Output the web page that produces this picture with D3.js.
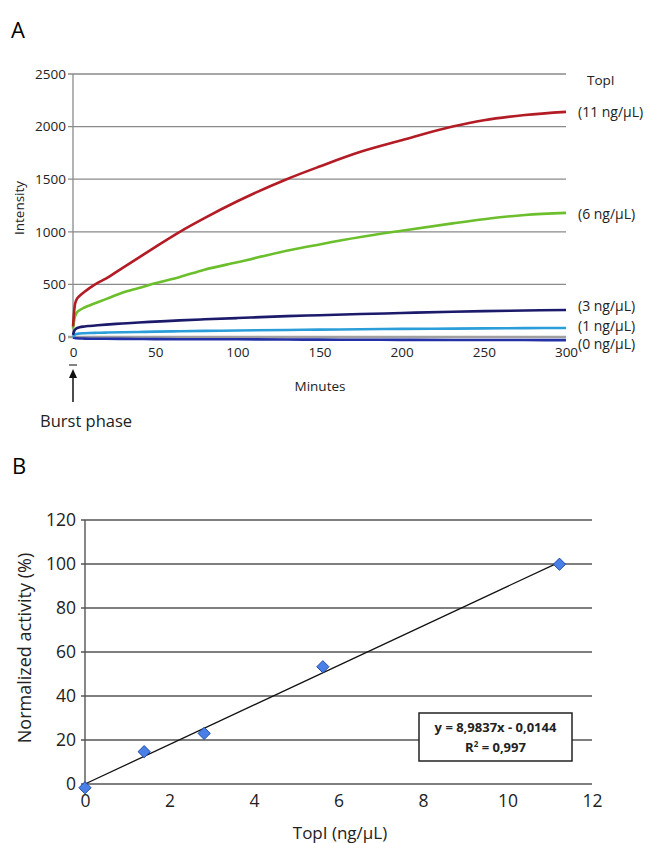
<!DOCTYPE html>
<html>
<head>
<meta charset="utf-8">
<script src="https://cdn.jsdelivr.net/npm/d3@7"></script>
<style>
  body { margin: 0; background: #fff; }
  svg { display: block; font-family: "Open Sans", sans-serif; }
</style>
</head>
<body>
<div id="chart"></div>
<script>
// Panel A: intensity over time for each TopI concentration
const minutes = [0, 1, 2, 4, 7, 10, 15, 20, 30, 40, 50, 65, 80, 100, 130, 150, 175, 200, 231, 250, 275, 300];
const red11   = [100, 290, 350, 390, 430, 465, 515, 555, 655, 755, 855, 1000, 1130, 1290, 1500, 1620, 1760, 1870, 2000, 2060, 2110, 2140];
const green6  = [80, 180, 225, 255, 280, 300, 330, 360, 420, 465, 510, 570, 640, 710, 820, 880, 950, 1010, 1080, 1120, 1160, 1180];
const navy3   = [20, 65, 80, 92, 100, 105, 112, 118, 128, 138, 146, 158, 168, 180, 198, 207, 218, 228, 240, 246, 252, 257];
const blue1   = [0, 20, 28, 33, 36, 38, 40, 42, 45, 48, 51, 55, 58, 62, 67, 70, 74, 77, 80, 82, 84, 86];
const blue0   = [-5, -10, -12, -14, -15, -16, -17, -17, -18, -19, -20, -21, -22, -22, -24, -25, -26, -27, -28, -28, -29, -30];
const seriesA = [
  { label: "(11 ng/\u03bcL)", values: red11,  color: "#b31b25" },
  { label: "(6 ng/\u03bcL)",  values: green6, color: "#6cbf2c" },
  { label: "(3 ng/\u03bcL)",  values: navy3,  color: "#1b1a6b" },
  { label: "(1 ng/\u03bcL)",  values: blue1,  color: "#2b9ed9" },
  { label: "(0 ng/\u03bcL)",  values: blue0,  color: "#2431a6" }
];
const ticksA_y = [0, 500, 1000, 1500, 2000, 2500];
const ticksA_x = [0, 50, 100, 150, 200, 250, 300];

// Panel B: normalized activity vs TopI concentration
const topI     = [0, 1.4, 2.82, 5.63, 11.23];
const activity = [-1.7, 14.7, 23.0, 53.3, 99.9];
const slope = 8.9837, intercept = -0.0144;
const ticksB_y = [0, 20, 40, 60, 80, 100, 120];
const ticksB_x = [0, 2, 4, 6, 8, 10, 12];

const width = 648, height = 843;
const svg = d3.select("#chart").append("svg")
    .attr("width", width)
    .attr("height", height);

const fmt = d3.format("d");

// ---------- Panel A ----------
const xA = d3.scaleLinear().domain([0, 300]).range([73, 566]);
const yA = d3.scaleLinear().domain([0, 2500]).range([337, 74]);

svg.append("text").attr("x", 11).attr("y", 38)
    .attr("font-size", 22).text("A");

const gA = svg.append("g");

// gridlines
gA.selectAll("line.grid")
    .data(ticksA_y)
    .enter().append("line")
    .attr("x1", 68).attr("x2", xA(300))
    .attr("y1", d => yA(d)).attr("y2", d => yA(d))
    .attr("stroke", d => d === 0 ? "#a0a0a0" : "#8a8a8a")
    .attr("stroke-width", d => d === 0 ? 2.5 : 1.3);

gA.append("line")
    .attr("x1", xA(0)).attr("x2", xA(0))
    .attr("y1", yA(2500)).attr("y2", yA(0))
    .attr("stroke", "#8a8a8a").attr("stroke-width", 1.3);

const axisAy = gA.append("g")
    .attr("transform", `translate(${xA(0) - 5},0)`)
    .call(d3.axisLeft(yA).tickValues(ticksA_y).tickFormat(fmt).tickSize(0).tickPadding(2));
axisAy.select(".domain").remove();
axisAy.selectAll("text").attr("font-size", 13.5).attr("fill", "#222")
    .style("font-family", "'Open Sans', sans-serif");

const axisAx = gA.append("g")
    .attr("transform", `translate(0,${yA(0) + 7})`)
    .call(d3.axisBottom(xA).tickValues(ticksA_x).tickFormat(fmt).tickSize(0).tickPadding(3));
axisAx.select(".domain").remove();
axisAx.selectAll("text").attr("font-size", 13.5).attr("fill", "#222")
    .style("font-family", "'Open Sans', sans-serif");

svg.append("text")
    .attr("transform", "translate(24,208) rotate(-90)")
    .attr("text-anchor", "middle")
    .attr("font-size", 13.5).attr("fill", "#222")
    .text("Intensity");

svg.append("text")
    .attr("x", 320).attr("y", 391)
    .attr("text-anchor", "middle")
    .attr("font-size", 13.5).attr("fill", "#222")
    .text("Minutes");

const lineA = d3.line()
    .x((d, i) => xA(minutes[i]))
    .y(d => yA(d))
    .curve(d3.curveMonotoneX);

gA.selectAll("path.series")
    .data(seriesA.slice().reverse())
    .enter().append("path")
    .attr("fill", "none")
    .attr("stroke", d => d.color)
    .attr("stroke-width", 2.6)
    .attr("d", d => lineA(d.values));

// labels on the right
svg.append("text").attr("x", 587).attr("y", 85)
    .attr("font-size", 13.5).attr("fill", "#222").text("TopI");
const labelY = [112, 214, 306, 326, 344];
svg.selectAll("text.lab")
    .data(seriesA)
    .enter().append("text")
    .attr("x", 578).attr("y", (d, i) => labelY[i] + 4.5)
    .attr("font-size", 14).attr("fill", "#222")
    .text(d => d.label);

// burst phase arrow
const ax0 = xA(0);
svg.append("line")
    .attr("x1", ax0 - 4).attr("x2", ax0 + 4)
    .attr("y1", 365).attr("y2", 365)
    .attr("stroke", "#333").attr("stroke-width", 1.2);
svg.append("line")
    .attr("x1", ax0).attr("x2", ax0)
    .attr("y1", 402).attr("y2", 376)
    .attr("stroke", "#111").attr("stroke-width", 1.5);
svg.append("path")
    .attr("d", `M${ax0},369 L${ax0 - 4},378 L${ax0 + 4},378 Z`)
    .attr("fill", "#111");
svg.append("text")
    .attr("x", 40).attr("y", 427)
    .attr("font-size", 16.5).attr("fill", "#222")
    .text("Burst phase");

// ---------- Panel B ----------
const xB = d3.scaleLinear().domain([0, 12]).range([85, 592]);
const yB = d3.scaleLinear().domain([0, 120]).range([784, 520]);

svg.append("text").attr("x", 12).attr("y", 474)
    .attr("font-size", 22).text("B");

const gB = svg.append("g");

gB.selectAll("line.grid")
    .data(ticksB_y)
    .enter().append("line")
    .attr("x1", 81).attr("x2", xB(12))
    .attr("y1", d => yB(d)).attr("y2", d => yB(d))
    .attr("stroke", "#555").attr("stroke-width", 1.4);

gB.append("line")
    .attr("x1", xB(0)).attr("x2", xB(0))
    .attr("y1", yB(120)).attr("y2", yB(0))
    .attr("stroke", "#555").attr("stroke-width", 1.4);

const axisBy = gB.append("g")
    .attr("transform", `translate(${xB(0) - 6},0)`)
    .call(d3.axisLeft(yB).tickValues(ticksB_y).tickFormat(fmt).tickSize(0).tickPadding(3));
axisBy.select(".domain").remove();
axisBy.selectAll("text").attr("font-size", 17.5).attr("fill", "#222")
    .style("font-family", "'Open Sans', sans-serif");

const axisBx = gB.append("g")
    .attr("transform", `translate(0,${yB(0) + 9})`)
    .call(d3.axisBottom(xB).tickValues(ticksB_x).tickFormat(fmt).tickSize(0).tickPadding(2));
axisBx.select(".domain").remove();
axisBx.selectAll("text").attr("font-size", 17.5).attr("fill", "#222")
    .style("font-family", "'Open Sans', sans-serif");

svg.append("text")
    .attr("transform", "translate(31,648) rotate(-90)")
    .attr("text-anchor", "middle")
    .attr("font-size", 18).attr("fill", "#222")
    .text("Normalized activity (%)");

svg.append("text")
    .attr("x", 340).attr("y", 839)
    .attr("text-anchor", "middle")
    .attr("font-size", 17).attr("fill", "#222")
    .text("TopI (ng/\u03bcL)");

// trend line
const trendX = [0, d3.max(topI)];
gB.append("line")
    .attr("x1", xB(trendX[0])).attr("y1", yB(slope * trendX[0] + intercept))
    .attr("x2", xB(trendX[1])).attr("y2", yB(slope * trendX[1] + intercept))
    .attr("stroke", "#111").attr("stroke-width", 1.3);

// diamond markers
gB.selectAll("path.pt")
    .data(topI)
    .enter().append("path")
    .attr("transform", (d, i) => `translate(${xB(d)},${yB(activity[i])})`)
    .attr("d", d3.symbol().type(d3.symbolDiamond2).size(95))
    .attr("fill", "#4a80e6")
    .attr("stroke", "#1f48a8")
    .attr("stroke-width", 1);

// equation box
const box = gB.append("g").attr("transform", "translate(419,713)");
box.append("rect")
    .attr("width", 153).attr("height", 48)
    .attr("fill", "#fff").attr("stroke", "#222").attr("stroke-width", 1.5);
box.append("text")
    .attr("x", 76.5).attr("y", 19)
    .attr("text-anchor", "middle")
    .attr("font-size", 13).attr("font-weight", "bold").attr("fill", "#222")
    .text("y = 8,9837x - 0,0144");
const r2 = box.append("text")
    .attr("x", 76.5).attr("y", 39)
    .attr("text-anchor", "middle")
    .attr("font-size", 13).attr("font-weight", "bold").attr("fill", "#222");
r2.append("tspan").text("R");
r2.append("tspan").attr("dy", -5).attr("font-size", 8).text("2");
r2.append("tspan").attr("dy", 5).text(" = 0,997");
</script>
</body>
</html>
